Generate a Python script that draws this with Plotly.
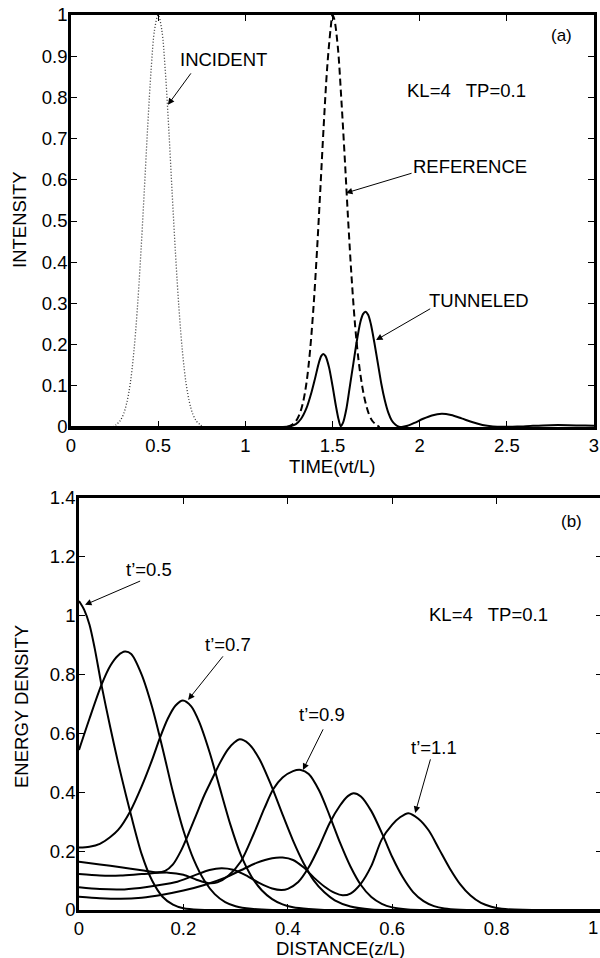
import plotly.graph_objects as go

# ---------------- Panel (a): intensity vs time ----------------
t_incident = [0.24, 0.26, 0.28, 0.30, 0.32, 0.34, 0.36, 0.38, 0.40, 0.42, 0.44, 0.46, 0.48, 0.50,
              0.52, 0.54, 0.56, 0.58, 0.60, 0.62, 0.64, 0.66, 0.68, 0.70, 0.72, 0.74, 0.76]
i_incident = [0.0, 0.006, 0.014, 0.03, 0.059, 0.106, 0.18, 0.284, 0.417, 0.57, 0.73, 0.87, 0.966, 1.0,
              0.966, 0.87, 0.73, 0.57, 0.417, 0.284, 0.18, 0.106, 0.059, 0.03, 0.014, 0.006, 0.0]

t_reference = [1.24, 1.27, 1.29, 1.31, 1.33, 1.35, 1.37, 1.39, 1.41, 1.43, 1.45, 1.47, 1.49, 1.50,
               1.51, 1.53, 1.55, 1.57, 1.59, 1.61, 1.63, 1.65, 1.67, 1.69, 1.71, 1.73, 1.75, 1.77]
i_reference = [0.0, 0.006, 0.014, 0.03, 0.058, 0.105, 0.18, 0.285, 0.42, 0.575, 0.735, 0.875, 0.97, 1.0,
               0.99, 0.925, 0.80, 0.655, 0.50, 0.36, 0.245, 0.16, 0.10, 0.058, 0.03, 0.014, 0.006, 0.0]

t_tunneled = [0.0, 1.20, 1.25, 1.29, 1.32, 1.35, 1.38, 1.40, 1.42, 1.435, 1.447, 1.46, 1.48, 1.50, 1.52,
              1.535, 1.547, 1.56, 1.58, 1.60, 1.62, 1.64, 1.66, 1.675, 1.689, 1.705, 1.72, 1.74, 1.76,
              1.78, 1.80, 1.82, 1.84, 1.86, 1.88, 1.897, 1.93, 1.97, 2.02, 2.07, 2.127, 2.18, 2.24,
              2.30, 2.36, 2.42, 2.48, 2.56, 2.65, 2.75, 2.85, 2.95, 3.00]
i_tunneled = [0.0, 0.0, 0.001, 0.007, 0.02, 0.045, 0.085, 0.118, 0.153, 0.172, 0.177, 0.172, 0.145, 0.10, 0.05,
              0.018, 0.002, 0.01, 0.045, 0.10, 0.155, 0.21, 0.255, 0.274, 0.28, 0.272, 0.25, 0.205, 0.155,
              0.105, 0.065, 0.035, 0.016, 0.006, 0.001, 0.0, 0.003, 0.01, 0.02, 0.028, 0.032, 0.029, 0.021,
              0.012, 0.005, 0.0015, 0.0005, 0.001, 0.003, 0.0045, 0.0045, 0.0035, 0.003]

a_xticks = [0, 0.5, 1, 1.5, 2, 2.5, 3]
a_xtext = ["0", "0.5", "1", "1.5", "2", "2.5", "3"]
a_yticks = [0, 0.1, 0.2, 0.3, 0.4, 0.5, 0.6, 0.7, 0.8, 0.9, 1.0]
a_ytext = ["0", "0.1", "0.2", "0.3", "0.4", "0.5", "0.6", "0.7", "0.8", "0.9", "1"]

# ---------------- Panel (b): energy density vs distance ----------------
z_05 = [0, 0.01, 0.02, 0.03, 0.043, 0.06, 0.075, 0.09, 0.10, 0.12, 0.14, 0.16, 0.18, 0.20, 0.23, 0.27, 1.0]
e_05 = [1.05, 1.02, 0.97, 0.89, 0.765, 0.62, 0.50, 0.39, 0.32, 0.19, 0.10, 0.045, 0.018, 0.006, 0.001, 0.0, 0.0]

z_06 = [0, 0.02, 0.043, 0.06, 0.075, 0.088, 0.10, 0.12, 0.14, 0.16, 0.18, 0.20, 0.22, 0.24, 0.26, 0.28,
        0.30, 0.33, 0.37, 1.0]
e_06 = [0.544, 0.65, 0.765, 0.83, 0.865, 0.878, 0.87, 0.80, 0.69, 0.55, 0.40, 0.27, 0.17, 0.10, 0.054, 0.027,
        0.013, 0.004, 0.0, 0.0]

z_07 = [0, 0.02, 0.04, 0.06, 0.075, 0.098, 0.12, 0.14, 0.155, 0.17, 0.185, 0.199, 0.215, 0.23, 0.25, 0.267,
        0.29, 0.31, 0.33, 0.35, 0.37, 0.39, 0.41, 0.44, 0.47, 1.0]
e_07 = [0.212, 0.215, 0.225, 0.248, 0.272, 0.335, 0.42, 0.51, 0.585, 0.65, 0.695, 0.712, 0.692, 0.64, 0.537,
        0.432, 0.29, 0.187, 0.115, 0.067, 0.037, 0.019, 0.009, 0.003, 0.0, 0.0]

z_08 = [0, 0.04, 0.08, 0.12, 0.15, 0.165, 0.18, 0.195, 0.21, 0.225, 0.24, 0.255, 0.27, 0.285, 0.298, 0.308,
        0.325, 0.345, 0.369, 0.39, 0.41, 0.43, 0.45, 0.47, 0.49, 0.52, 0.56, 0.60, 1.0]
e_08 = [0.164, 0.155, 0.145, 0.135, 0.128, 0.133, 0.155, 0.20, 0.26, 0.325, 0.39, 0.445, 0.50, 0.545, 0.57, 0.58,
        0.565, 0.515, 0.42, 0.324, 0.236, 0.16, 0.10, 0.06, 0.033, 0.012, 0.002, 0.0, 0.0]

z_09 = [0, 0.04, 0.08, 0.12, 0.171, 0.2, 0.225, 0.248, 0.265, 0.285, 0.31, 0.335, 0.355, 0.372, 0.39, 0.41,
        0.425, 0.44, 0.46, 0.48, 0.50, 0.52, 0.54, 0.56, 0.58, 0.60, 0.63, 0.67, 1.0]
e_09 = [0.122, 0.117, 0.117, 0.122, 0.127, 0.12, 0.103, 0.091, 0.094, 0.115, 0.165, 0.26, 0.345, 0.41, 0.45, 0.472,
        0.476, 0.462, 0.406, 0.321, 0.229, 0.148, 0.085, 0.044, 0.021, 0.009, 0.002, 0.0, 0.0]

z_10 = [0, 0.04, 0.087, 0.13, 0.184, 0.22, 0.25, 0.273, 0.295, 0.32, 0.345, 0.37, 0.388, 0.40, 0.42, 0.44,
        0.46, 0.48, 0.50, 0.515, 0.526, 0.54, 0.56, 0.583, 0.60, 0.62, 0.64, 0.66, 0.68, 0.70, 0.73, 0.77, 1.0]
e_10 = [0.077, 0.071, 0.07, 0.078, 0.094, 0.117, 0.136, 0.142, 0.137, 0.118, 0.092, 0.073, 0.068, 0.072, 0.095, 0.145,
        0.215, 0.295, 0.355, 0.387, 0.397, 0.386, 0.336, 0.25, 0.18, 0.112, 0.061, 0.03, 0.013, 0.005, 0.001, 0.0, 0.0]

z_11 = [0, 0.04, 0.08, 0.12, 0.16, 0.20, 0.24, 0.28, 0.31, 0.34, 0.37, 0.39, 0.41, 0.43, 0.45, 0.47, 0.49,
        0.505, 0.52, 0.54, 0.56, 0.58, 0.60, 0.615, 0.631, 0.65, 0.67, 0.69, 0.71, 0.73, 0.75, 0.77, 0.79,
        0.81, 0.85, 1.0]
e_11 = [0.045, 0.04, 0.038, 0.042, 0.052, 0.066, 0.085, 0.11, 0.135, 0.16, 0.176, 0.178, 0.17, 0.145, 0.11, 0.08, 0.058,
        0.05, 0.056, 0.09, 0.15, 0.24, 0.29, 0.315, 0.329, 0.31, 0.27, 0.206, 0.142, 0.088, 0.049, 0.024, 0.011,
        0.004, 0.0005, 0.0]

b_xticks = [0, 0.2, 0.4, 0.6, 0.8]
b_xtext = ["0", "0.2", "0.4", "0.6", "0.8"]
b_yticks = [0, 0.2, 0.4, 0.6, 0.8, 1.0, 1.2, 1.4]
b_ytext = ["0", "0.2", "0.4", "0.6", "0.8", "1", "1.2", "1.4"]

FONT = "Liberation Sans, Arial, Helvetica, sans-serif"
W, H = 600, 958
TS = 18.5  # text size

fig = go.Figure()

# panel (a)
fig.add_trace(go.Scatter(x=t_incident, y=i_incident, mode="lines", xaxis="x", yaxis="y",
                         line=dict(color="#333333", width=1.3, dash="1px,2px", shape="spline"),
                         showlegend=False, hoverinfo="skip"))
fig.add_trace(go.Scatter(x=t_reference, y=i_reference, mode="lines", xaxis="x", yaxis="y",
                         line=dict(color="black", width=2, dash="7px,4px", shape="spline"),
                         showlegend=False, hoverinfo="skip"))
fig.add_trace(go.Scatter(x=t_tunneled, y=i_tunneled, mode="lines", xaxis="x", yaxis="y",
                         line=dict(color="black", width=2, shape="spline", smoothing=0.8),
                         showlegend=False, hoverinfo="skip"))

# panel (b)
curves_b = [(z_05, e_05), (z_06, e_06), (z_07, e_07), (z_08, e_08), (z_09, e_09), (z_10, e_10)]
for zz, ee in curves_b:
    fig.add_trace(go.Scatter(x=zz, y=ee, mode="lines", xaxis="x2", yaxis="y2",
                             line=dict(color="black", width=2, shape="spline", smoothing=0.8),
                             showlegend=False, hoverinfo="skip"))
# last curve drawn on the overlaying axis that carries the right-side ticks
fig.add_trace(go.Scatter(x=z_11, y=e_11, mode="lines", xaxis="x2", yaxis="y3",
                         line=dict(color="black", width=2, shape="spline", smoothing=0.8),
                         showlegend=False, hoverinfo="skip"))

axis_common = dict(showgrid=False, zeroline=False, showline=True, linecolor="black",
                   ticks="inside", ticklen=6, tickwidth=1.2, tickcolor="black",
                   tickfont=dict(family=FONT, size=TS, color="black"), automargin=False)

ax_dom = [71 / W, 594 / W]
ay_dom = [1 - 427 / H, 1 - 15 / H]
bx_dom = [79 / W, 1.0]
by_dom = [1 - 910 / H, 1 - 498 / H]

fig.update_layout(
    width=W, height=H,
    margin=dict(l=0, r=0, t=0, b=0, autoexpand=False),
    paper_bgcolor="white", plot_bgcolor="white",
    xaxis=dict(domain=ax_dom, range=[0, 3], tickvals=a_xticks, ticktext=a_xtext,
               anchor="y", mirror="ticks", linewidth=2.5, **axis_common),
    yaxis=dict(domain=ay_dom, range=[0, 1], tickvals=a_yticks, ticktext=a_ytext,
               anchor="x", mirror="ticks", linewidth=2.5, ticklabelstandoff=-3, **axis_common),
    xaxis2=dict(domain=bx_dom, range=[0, 0.998], tickvals=b_xticks, ticktext=b_xtext,
                anchor="y2", mirror="ticks", linewidth=2.5, **axis_common),
    yaxis2=dict(domain=by_dom, range=[0, 1.4], tickvals=b_yticks, ticktext=b_ytext,
                anchor="x2", mirror=False, linewidth=2.5, ticklabelstandoff=-3, **axis_common),
    yaxis3=dict(overlaying="y2", side="right", anchor="x2", range=[0, 1.4], tickvals=b_yticks,
                showticklabels=False, showline=False, showgrid=False, zeroline=False,
                ticks="inside", ticklen=4, tickwidth=1.2, tickcolor="black"),
)

ann = []

def label(text, x, y, xref, yref, size=TS):
    ann.append(dict(text=text, x=x, y=y, xref=xref, yref=yref, showarrow=False,
                    font=dict(family=FONT, size=size, color="black"),
                    xanchor="center", yanchor="middle"))

def arrow(x, y, ax_, ay_, xref, yref):
    ann.append(dict(text="", x=x, y=y, ax=ax_, ay=ay_, xref=xref, yref=yref,
                    axref=xref, ayref=yref, showarrow=True, arrowhead=2, arrowsize=1.3,
                    arrowwidth=1, arrowcolor="black", standoff=0, startstandoff=0))

# panel (a) texts
label("INCIDENT", 0.872, 0.891, "x", "y")
arrow(0.556, 0.782, 0.694, 0.862, "x", "y")
label("REFERENCE", 2.289, 0.633, "x", "y")
arrow(1.577, 0.568, 1.962, 0.617, "x", "y")
label("TUNNELED", 2.340, 0.308, "x", "y")
arrow(1.750, 0.211, 2.069, 0.289, "x", "y")
label("KL=4   TP=0.1", 2.266, 0.816, "x", "y")
label("(a)", 2.811, 0.951, "x", "y", size=17)

# panel (b) texts
label("t\u2019=0.5", 0.135, 1.156, "x2", "y2")
arrow(0.0115, 1.037, 0.120, 1.120, "x2", "y2")
label("t\u2019=0.7", 0.2845, 0.901, "x2", "y2")
arrow(0.209, 0.714, 0.278, 0.867, "x2", "y2")
label("t\u2019=0.9", 0.4655, 0.663, "x2", "y2")
arrow(0.429, 0.476, 0.469, 0.619, "x2", "y2")
label("t\u2019=1.1", 0.680, 0.551, "x2", "y2")
arrow(0.644, 0.330, 0.674, 0.517, "x2", "y2")
label("KL=4   TP=0.1", 0.785, 1.003, "x2", "y2")
label("(b)", 0.943, 1.320, "x2", "y2", size=17)

# axis titles
def title(text, xp, yp, angle=0):
    ann.append(dict(text=text, x=xp / W, y=1 - yp / H, xref="paper", yref="paper", showarrow=False,
                    textangle=angle, font=dict(family=FONT, size=TS, color="black"),
                    xanchor="center", yanchor="middle"))

title("INTENSITY", 20, 220, -90)
title("TIME(vt/L)", 332, 466)
title("ENERGY DENSITY", 21, 707, -90)
title("DISTANCE(z/L)", 340, 948)

# "1" tick label at the right end of panel (b), kept inside the page
ann.append(dict(text="1", x=1.0, y=1 - 927 / H, xref="paper", yref="paper", showarrow=False,
                font=dict(family=FONT, size=TS, color="black"), xanchor="right", yanchor="middle"))

fig.update_layout(annotations=ann)

fig.write_html("out.html")
